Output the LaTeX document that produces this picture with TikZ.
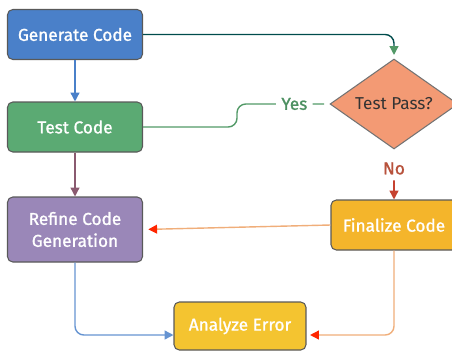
\documentclass[tikz,border=0pt]{standalone}
\usepackage{fontspec}
\setmainfont{Fira Sans}
\newfontfamily\medfont{Fira Sans}[FakeBold=1.2]
\usetikzlibrary{shapes.geometric, arrows.meta, positioning}
\definecolor{genblue}{HTML}{4A80C9}
\definecolor{testgreen}{HTML}{5BAA73}
\definecolor{refpurple}{HTML}{9A87B8}
\definecolor{finorange}{HTML}{F4B52B}
\definecolor{anayellow}{HTML}{F4C430}
\definecolor{passsalmon}{HTML}{F39A74}
\definecolor{nored}{HTML}{B8523C}
\definecolor{mauve}{HTML}{8A5A70}
\definecolor{paleorange}{HTML}{F0AE7A}

\begin{document}
\begin{tikzpicture}[x=0.02cm, y=-0.02cm,
        caja/.style={rectangle, rounded corners=3pt, draw=black!65, line width=0.6pt, minimum width=2.7cm, minimum height=1cm, align=center, text=white, font=\medfont\fontsize{9.8}{12.5}\selectfont},
        flecha/.style={line width=0.8pt, -{Triangle[length=5pt, width=5pt]}, rounded corners=5pt}]
        \useasboundingbox (0,0) rectangle (452,352);
        \node[caja, fill=genblue] (gen) at (75,34.5) {Generate Code};
        \node[caja, fill=testgreen] (test) at (75,127) {Test Code};
        \node[caja, fill=refpurple, minimum height=1.3cm] (ref) at (75,229.5) {Refine Code\\Generation};
        \node[caja, fill=finorange, minimum width=2.52cm] (fin) at (394,225) {Finalize Code};
        \node[caja, fill=anayellow, minimum width=2.64cm, minimum height=0.96cm] (ana) at (240,326) {Analyze Error};
        \node[diamond, draw=black!55, line width=0.6pt, fill=passsalmon, minimum width=2.56cm, minimum height=1.52cm, inner sep=0pt, font=\fontsize{9.8}{12}\selectfont, text=black!80] (pass) at (394,104) {Test Pass?};
        \draw[flecha, draw=teal!60!black, -{Triangle[length=5pt, width=5pt, color=testgreen!90!black]}, shorten >=2pt] (gen.east) -| (pass.north);
        \draw[flecha, draw=genblue] (gen.south) -- (test.north);
        \draw[flecha, draw=mauve] (test.south) -- (ref.north);
        \draw[line width=0.8pt, draw=testgreen!90!black, rounded corners=5pt, shorten >=3pt] (test.east) -- (237,127) |- node[pos=0.81, fill=white, inner xsep=3pt, text=testgreen!85!black, font=\medfont\fontsize{9.8}{12}\selectfont] (yes) {Yes} (pass.west);
        \draw[flecha, draw=nored!80!red, shorten <=6pt] (pass.south) -- node[pos=0.38, fill=white, text=nored, font=\medfont\fontsize{9.8}{12}\selectfont] (no) {No} (fin.north);
        \draw[flecha, draw=paleorange, -{Triangle[length=5pt, width=5pt, color=red!70!orange]}, shorten >=3pt] (fin.west) -- (ref.east);
        \draw[flecha, draw=genblue!85!white] (ref.south) |- ([yshift=-0.18cm]ana.west);
        \draw[flecha, draw=paleorange, -{Triangle[length=5pt, width=5pt, color=red!70!orange]}, shorten >=2pt] (fin.south) |- ([yshift=-0.18cm]ana.east);
    \end{tikzpicture}
\end{document}
